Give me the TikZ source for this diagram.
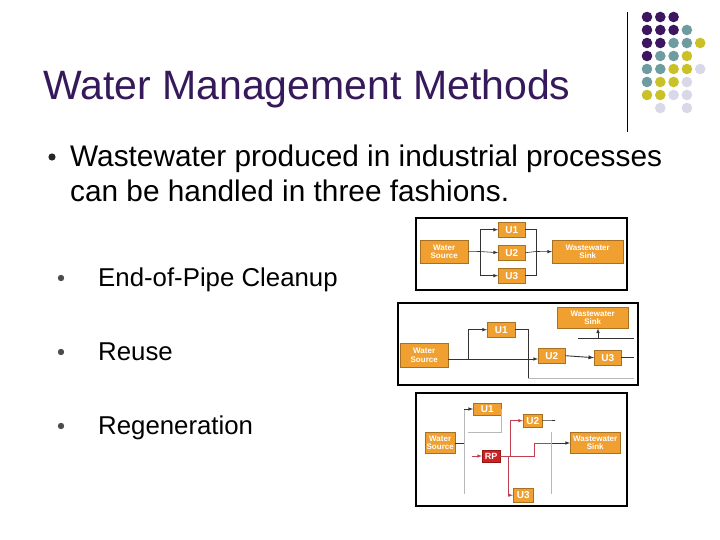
\documentclass[tikz,border=0pt]{standalone}
\usepackage{fontspec}
\setmainfont{Liberation Sans}
\usetikzlibrary{calc}
\definecolor{titlec}{HTML}{35195A}
\definecolor{P}{HTML}{3D1660}
\definecolor{T}{HTML}{6E9CA0}
\definecolor{Y}{HTML}{C9C127}
\definecolor{L}{HTML}{D8D8E8}
\definecolor{N}{HTML}{FFFFFF}
\definecolor{boxor}{HTML}{F0A030}
\definecolor{rpred}{HTML}{D02020}
\definecolor{pipe}{HTML}{B8B8B8}
\definecolor{rpipe}{HTML}{C04050}
\tikzset{
  unit/.style={draw=boxor!70!black, fill=boxor, text=white, font=\fontsize{10}{10}\selectfont\bfseries, inner sep=0pt, anchor=north west},
  small/.style={unit, font=\fontsize{8}{8.5}\selectfont\bfseries, align=center},
  frame/.style={draw=black, line width=1.6pt},
  ln/.style={draw=black!80, line width=0.6pt},
  arr/.style={ln, -latex},
  gln/.style={draw=pipe, line width=0.6pt},
  rln/.style={draw=rpipe, line width=0.6pt}
}
\newcommand{\ubox}[6]{\node[#1, minimum width=#4pt, minimum height=#5pt] (#2) at (#3) {#6};}
\begin{document}
\begin{tikzpicture}[x=1pt,y=-1pt]
\useasboundingbox (0,0) rectangle (720,540);
% title and bullets
\node[anchor=base west, inner sep=0pt, text=titlec, font=\fontsize{41}{41}\selectfont] (title) at (43,100) {Water Management Methods};
\fill[black!85] (52,157) circle (3.6);
\node[anchor=base west, inner sep=0pt, font=\fontsize{29.8}{29.8}\selectfont] (main1) at (70,167) {Wastewater produced in industrial processes};
\node[anchor=base west, inner sep=0pt, font=\fontsize{29.8}{29.8}\selectfont] (main2) at (70,202) {can be handled in three fashions.};
\foreach \y/\t in {278/End-of-Pipe Cleanup, 352/Reuse, 426/Regeneration}{
  \fill[black!70] (61,\y) circle (3.2);
  \node[anchor=base west, inner sep=0pt, font=\fontsize{25.8}{25.8}\selectfont] at (98,\y+8) {\t};
}
% dots
\draw[black, line width=0.8pt] (627,12) -- (627,132);
\foreach \r/\row in {0/{P,P,P},1/{P,P,P,T},2/{P,P,T,T,Y},3/{P,T,T,Y},4/{T,T,Y,Y,L},5/{T,Y,Y,L},6/{Y,Y,L,L},7/{N,L,N,L}}{
  \foreach \c [count=\i from 0] in \row {
    \fill[\c] (647+13.3*\i,17+13*\r) circle (5.3);
  }
}
% end-of-pipe
\draw[frame] (416,218) rectangle (627,290);
\ubox{small}{src1}{420,240}{48}{23}{Water\\Source}
\ubox{unit}{u11}{498,222}{27}{15}{U1}
\ubox{unit}{u12}{498,245}{27}{15}{U2}
\ubox{unit}{u13}{498,268}{27}{15}{U3}
\ubox{small}{snk1}{552,240}{71}{23}{Wastewater\\Sink}
\coordinate (sp1) at (480,251.5);
\coordinate (mg1) at (536,251.5);
\draw[ln] (src1.east) -- (sp1);
\draw[arr] (sp1) |- (u11.west);
\draw[arr] (sp1) -- (u12.west);
\draw[arr] (sp1) |- (u13.west);
\draw[ln] (u11.east) -| (mg1);
\draw[ln] (u13.east) -| (mg1);
\draw[ln] (u12.east) -- (mg1);
\draw[arr] (mg1) -- (snk1.west);
% reuse
\draw[frame] (398,303) rectangle (638,385);
\ubox{small}{snk2}{557,307}{71}{21}{Wastewater\\Sink}
\ubox{unit}{u21}{487,322}{28}{15}{U1}
\ubox{small}{src2}{400,343}{48}{24}{Water\\Source}
\ubox{unit}{u22}{538,348}{27}{15}{U2}
\ubox{unit}{u23}{594,350}{27}{15}{U3}
\coordinate (sp2) at (468,359);
\coordinate (mg2) at (528,359);
\coordinate (lp2) at (528,378);
\coordinate (ed2) at (634,378);
\coordinate (rs2) at (578,338);
\coordinate (re2) at (634,338);
\coordinate (up2) at (598,338);
\draw[ln] (src2.east |- sp2) -- (sp2);
\draw[arr] (sp2) |- (u21.west);
\draw[ln, line width=0.9pt] (sp2) -- (mg2);
\draw[ln] (u21.east) -| (mg2);
\draw[arr] (mg2) -- (u22.west |- mg2);
\draw[arr, line width=0.9pt] (u22.east) -- (u23.west);
\draw[ln] (lp2) -- (mg2);
\draw[gln] (lp2) -- (ed2);
\draw[ln] (u23.east) -- (u23.east -| ed2);
\draw[ln] (rs2) -- (re2);
\draw[arr] (up2) -- (snk2.south -| up2);
% regeneration
\draw[frame] (416,393) rectangle (627,506);
\ubox{unit}{u31}{473,403}{28}{12}{U1}
\ubox{unit}{u32}{523,414}{19}{13}{U2}
\ubox{small}{src3}{425,432}{30}{21}{Water\\Source}
\node[draw=rpred!70!black, fill=rpred, text=white, font=\fontsize{9}{9}\selectfont\bfseries, inner sep=0pt, minimum width=18pt, minimum height=12pt, anchor=north west] (rp) at (482,450) {RP};
\ubox{small}{snk3}{570,432}{50}{21}{Wastewater\\Sink}
\ubox{unit}{u33}{513,488}{20}{14}{U3}
\coordinate (sp3) at (464,443);
\coordinate (tp3) at (464,409);
\coordinate (bt3) at (464,494);
\coordinate (ur3) at (501,432);
\coordinate (ul3) at (468,432);
\coordinate (in3) at (472,456);
\coordinate (rv3) at (510,456);
\coordinate (rd3) at (508,456);
\coordinate (rk3) at (534,456);
\coordinate (rt3) at (534,443);
\coordinate (gm3) at (551,443);
\coordinate (gv3) at (551,432);
\coordinate (gb3) at (551,494);
\coordinate (ue3) at (555,420.5);
\draw[ln] (src3.east |- sp3) -- (sp3);
\draw[gln] (tp3) -- (bt3);
\draw[arr] (tp3) -- (u31.west |- tp3);
\draw[gln] (u31.east |- tp3) -| (ur3) -- (ul3);
\draw[rln, -latex] (in3) -- (rp.west |- in3);
\draw[rln] (rp.east |- rv3) -- (rk3) -- (rt3) -- (gm3);
\draw[rln, -latex] (rv3) |- (u32.west);
\draw[arr] (gm3) -- (snk3.west |- gm3);
\draw[rln, -latex] (rd3) |- (u33.west);
\draw[gln] (gv3) -- (gb3);
\draw[ln] (u32.east) -- (ue3);
\end{tikzpicture}
\end{document}
